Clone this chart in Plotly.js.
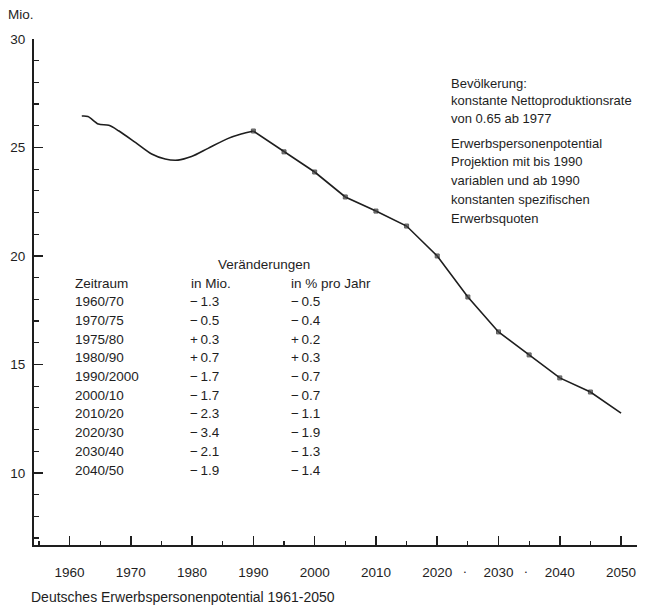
<!DOCTYPE html>
<html>
<head>
<meta charset="utf-8">
<script src="https://cdn.plot.ly/plotly-3.0.1.min.js"></script>
<style>
  html, body { margin: 0; padding: 0; background: #ffffff; }
  #chart { width: 648px; height: 605px; }
</style>
</head>
<body>
<div id="chart"></div>
<script>
// ---- data ----
var histYears  = [1962, 1963, 1964.7, 1966.4, 1968, 1970.8, 1973.4, 1975.6, 1977.7, 1979.9, 1982.6, 1985.9, 1988, 1990];
var histValues = [26.45, 26.43, 26.08, 26.02, 25.77, 25.22, 24.7, 24.47, 24.42, 24.58, 24.96, 25.42, 25.62, 25.76];

var projYears  = [1990, 1995, 2000, 2005, 2010, 2015, 2020, 2025, 2030, 2035, 2040, 2045, 2050];
var projValues = [25.76, 24.8, 23.87, 22.72, 22.07, 21.38, 20.0, 18.11, 16.5, 15.44, 14.38, 13.73, 12.76];

var xTickVals = [1960, 1970, 1980, 1990, 2000, 2010, 2020, 2030, 2040, 2050];
var yTickVals = [10, 15, 20, 25, 30];

var periods   = ["1960/70", "1970/75", "1975/80", "1980/90", "1990/2000", "2000/10", "2010/20", "2020/30", "2030/40", "2040/50"];
var changeMio = [-1.3, -0.5, 0.3, 0.7, -1.7, -1.7, -2.3, -3.4, -2.1, -1.9];
var changePct = [-0.5, -0.4, 0.2, 0.3, -0.7, -0.7, -1.1, -1.9, -1.3, -1.4];

var noteLines = [
  "Bevölkerung:",
  "konstante Nettoproduktionsrate",
  "von 0.65 ab 1977"
];
var noteLines2 = [
  "Erwerbspersonenpotential",
  "Projektion mit bis 1990",
  "variablen und ab 1990",
  "konstanten spezifischen",
  "Erwerbsquoten"
];
var chartTitle = "Deutsches Erwerbspersonenpotential 1961-2050";

// ---- layout helpers (pixel -> paper) ----
var W = 648, H = 605;
var M = {l: 34, r: 11, t: 39, b: 60};
var PW = W - M.l - M.r, PH = H - M.t - M.b;
function px(x) { return (x - M.l) / PW; }
function py(y) { return (H - M.b - y) / PH; }

var FONT = "Liberation Sans, Arial, sans-serif";
var INK = "#1e1e1e";

function fmt(v) { return (v < 0 ? "\u2212" : "+") + "\u2009" + Math.abs(v).toFixed(1); }

var ann = [];
function txt(s, x, y, size, anchor) {
  ann.push({text: s, xref: "paper", yref: "paper", x: px(x), y: py(y),
    xanchor: anchor || "left", yanchor: "middle", showarrow: false,
    font: {family: FONT, size: size || 13.5, color: INK}});
}

txt("Mio.", 6, 14, 13.5);
noteLines.forEach(function (s, i) { txt(s, 449, 83 + i * 18, 13); });
noteLines2.forEach(function (s, i) { txt(s, 449, 143 + i * 18.8, 13); });

txt("Veränderungen", 216, 264, 13.5);
txt("Zeitraum", 73, 283, 13.5);
txt("in Mio.", 189, 283, 13.5);
txt("in % pro Jahr", 289, 283, 13.5);
periods.forEach(function (p, i) {
  var y = 301.5 + i * 18.75;
  txt(p, 73, y, 13.5);
  txt(fmt(changeMio[i]), 188, y, 13.5);
  txt(fmt(changePct[i]), 289, y, 13.5);
});
txt(".", 465, 568, 13.5, "center");
txt(".", 526, 568, 13.5, "center");
txt(chartTitle, 29, 597, 14);

var traces = [
  {x: histYears, y: histValues, mode: "lines", type: "scatter",
   line: {color: INK, width: 1.6, shape: "spline", smoothing: 0.8},
   hoverinfo: "skip"},
  {x: projYears, y: projValues, mode: "lines+markers", type: "scatter",
   line: {color: INK, width: 1.6},
   marker: {symbol: "square", color: "#444", size: projYears.map(function (y) { return y < 2050 ? 4 : 0; })},
   hoverinfo: "skip"}
];

var layout = {
  width: W, height: H,
  margin: M,
  paper_bgcolor: "#ffffff", plot_bgcolor: "#ffffff",
  showlegend: false,
  xaxis: {
    range: [1954.2, 2052.6], tickvals: xTickVals,
    ticks: "inside", ticklen: 9, tickwidth: 1.5, tickcolor: INK,
    minor: {dtick: 5, tick0: 1960, ticks: "inside", ticklen: 4, tickwidth: 1.2, tickcolor: INK},
    showgrid: false, zeroline: false,
    showline: true, linecolor: INK, linewidth: 2,
    ticklabelstandoff: 14,
    tickfont: {family: FONT, size: 13.5, color: INK}
  },
  yaxis: {
    range: [6.68, 30], tickvals: yTickVals,
    ticks: "inside", ticklen: 9, tickwidth: 1.5, tickcolor: INK,
    minor: {dtick: 1, tick0: 0, ticks: "inside", ticklen: 5, tickwidth: 1.2, tickcolor: INK},
    showgrid: false, zeroline: false,
    showline: true, linecolor: INK, linewidth: 2,
    ticklabelstandoff: 4,
    tickfont: {family: FONT, size: 13.5, color: INK}
  },
  annotations: ann
};

Plotly.newPlot("chart", traces, layout, {displayModeBar: false, staticPlot: true});
</script>
</body>
</html>
